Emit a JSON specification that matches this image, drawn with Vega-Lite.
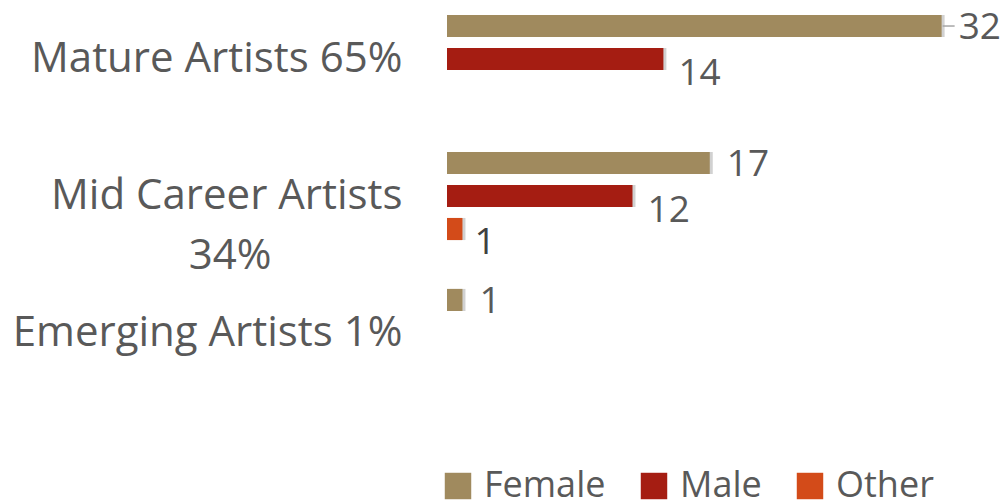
{
  "$schema": "https://vega.github.io/schema/vega-lite/v6.json",
  "width": 541,
  "height": 382,
  "autosize": "none",
  "padding": {"left": 447, "top": 5, "right": 18, "bottom": 114},
  "background": "white",
  "config": {"view": {"stroke": null}, "font": "Open Sans"},
  "data": {"values": [
    {"category": "Mature Artists 65%", "gender": "Female", "count": 32},
    {"category": "Mature Artists 65%", "gender": "Male", "count": 14},
    {"category": "Mid Career Artists 34%", "gender": "Female", "count": 17},
    {"category": "Mid Career Artists 34%", "gender": "Male", "count": 12},
    {"category": "Mid Career Artists 34%", "gender": "Other", "count": 1},
    {"category": "Emerging Artists 1%", "gender": "Female", "count": 1}
  ]},
  "encoding": {
    "y": {
      "field": "category", "type": "nominal",
      "sort": ["Mature Artists 65%", "Mid Career Artists 34%", "Emerging Artists 1%"],
      "title": null,
      "scale": {"paddingInner": 0.277, "paddingOuter": 0.033},
      "axis": {
        "domain": false, "ticks": false, "grid": false,
        "labelFontSize": 42, "labelColor": "#595959", "labelPadding": 45,
        "labelLineHeight": 60, "labelFont": "Open Sans", "labelLimit": 1000,
        "labelExpr": "datum.value == 'Mid Career Artists 34%' ? ['Mid Career Artists', '34%\u00a0\u00a0\u00a0\u00a0\u00a0\u00a0\u00a0\u00a0\u00a0\u00a0\u00a0\u00a0\u200b'] : datum.value"
      }
    },
    "yOffset": {
      "field": "gender", "type": "nominal",
      "sort": ["Female", "Male", "Other"],
      "scale": {"paddingInner": 0.33, "paddingOuter": 0.165}
    },
    "x": {"field": "count", "type": "quantitative", "scale": {"domain": [0, 35]}, "axis": null}
  },
  "layer": [
    {
      "mark": {"type": "bar", "color": "#000000", "opacity": 0.18, "xOffset": 3, "x2Offset": 3}
    },
    {
      "mark": {"type": "bar"},
      "encoding": {
        "color": {
          "field": "gender", "type": "nominal",
          "sort": ["Female", "Male", "Other"],
          "scale": {"domain": ["Female", "Male", "Other"], "range": ["#A08A5E", "#A51D12", "#D34B19"]},
          "legend": {
            "orient": "none", "legendX": -7, "legendY": 463,
            "direction": "horizontal", "title": null,
            "symbolType": "square", "symbolSize": 700, "symbolStrokeWidth": 0,
            "labelFontSize": 36, "labelColor": "#595959", "labelFont": "Open Sans",
            "columnPadding": 30, "labelOffset": 8
          }
        }
      }
    },
    {
      "transform": [{"filter": "datum.gender == 'Female' && datum.count > 30"}],
      "mark": {"type": "rule", "color": "#A6A6A6", "strokeWidth": 1.5, "xOffset": 1, "x2Offset": 13},
      "encoding": {"x2": {"field": "count"}}
    },
    {
      "transform": [{"filter": "datum.gender == 'Female'"}],
      "mark": {"type": "text", "align": "left", "baseline": "middle", "dx": 17, "dy": 2, "fontSize": 37, "color": "#595959"},
      "encoding": {"text": {"field": "count", "type": "quantitative"}}
    },
    {
      "transform": [{"filter": "datum.gender == 'Male'"}],
      "mark": {"type": "text", "align": "left", "baseline": "middle", "dx": 15, "dy": 15, "fontSize": 37, "color": "#595959"},
      "encoding": {"text": {"field": "count", "type": "quantitative"}}
    },
    {
      "transform": [{"filter": "datum.gender == 'Other'"}],
      "mark": {"type": "text", "align": "left", "baseline": "middle", "dx": 12, "dy": 14, "fontSize": 37, "color": "#404040"},
      "encoding": {"text": {"field": "count", "type": "quantitative"}}
    }
  ]
}
